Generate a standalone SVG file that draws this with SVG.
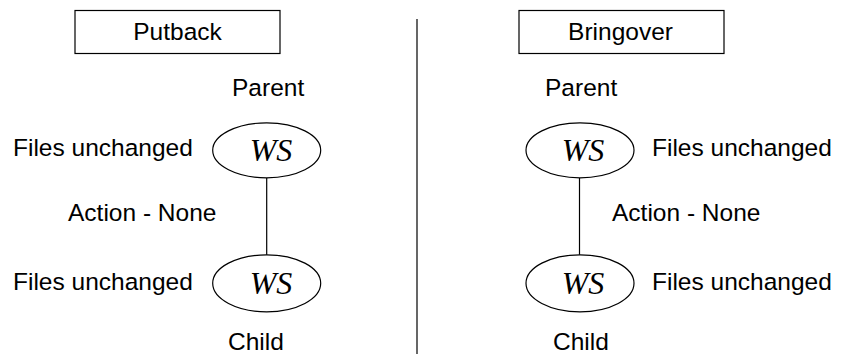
<svg xmlns="http://www.w3.org/2000/svg" width="842" height="356" viewBox="0 0 842 356">
<style>
.lbl{font-family:"Liberation Sans",Arial,sans-serif;font-size:24.5px;fill:#000}
.ws{font-family:"Liberation Serif","Times New Roman",serif;font-style:italic;font-size:32px;fill:#000}
.shape{fill:#fff;stroke:#000;stroke-width:1.2}
.conn{stroke:#000;stroke-width:1.2;fill:none}
</style>
<rect width="842" height="356" fill="#fff"/>
<g id="divider"><line x1="417" y1="19" x2="417" y2="354" class="conn"/></g>
<g id="connectors">
<line x1="266.7" y1="178" x2="266.7" y2="255" class="conn"/>
<line x1="579.5" y1="178" x2="579.5" y2="255" class="conn"/>
</g>
<g id="putback">
<rect x="75" y="10.5" width="205" height="43" class="shape"/>
<text x="177.5" y="40" text-anchor="middle" class="lbl">Putback</text>
</g>
<g id="putback-parent">
<text x="232" y="96" class="lbl">Parent</text>
<text x="13" y="156" class="lbl">Files unchanged</text>
<ellipse cx="266.7" cy="150.3" rx="54" ry="27.5" class="shape"/>
<text x="271" y="161" text-anchor="middle" class="ws">WS</text>
</g>
<text id="putback-action" x="68" y="220.7" class="lbl">Action - None</text>
<g id="putback-child">
<text x="13" y="290" class="lbl">Files unchanged</text>
<ellipse cx="266.7" cy="283.3" rx="54" ry="28.5" class="shape"/>
<text x="271" y="294" text-anchor="middle" class="ws">WS</text>
<text x="228" y="350" class="lbl">Child</text>
</g>
<g id="bringover">
<rect x="519" y="10.5" width="205" height="43" class="shape"/>
<text x="620.5" y="40" text-anchor="middle" class="lbl">Bringover</text>
</g>
<g id="bringover-parent">
<text x="545" y="96" class="lbl">Parent</text>
<ellipse cx="580" cy="150.3" rx="54" ry="27.5" class="shape"/>
<text x="583" y="161" text-anchor="middle" class="ws">WS</text>
<text x="652" y="156" class="lbl">Files unchanged</text>
</g>
<text id="bringover-action" x="612" y="220.7" class="lbl">Action - None</text>
<g id="bringover-child">
<ellipse cx="580" cy="283.3" rx="54" ry="28.5" class="shape"/>
<text x="583" y="294" text-anchor="middle" class="ws">WS</text>
<text x="652" y="290" class="lbl">Files unchanged</text>
<text x="553" y="350" class="lbl">Child</text>
</g>
</svg>
